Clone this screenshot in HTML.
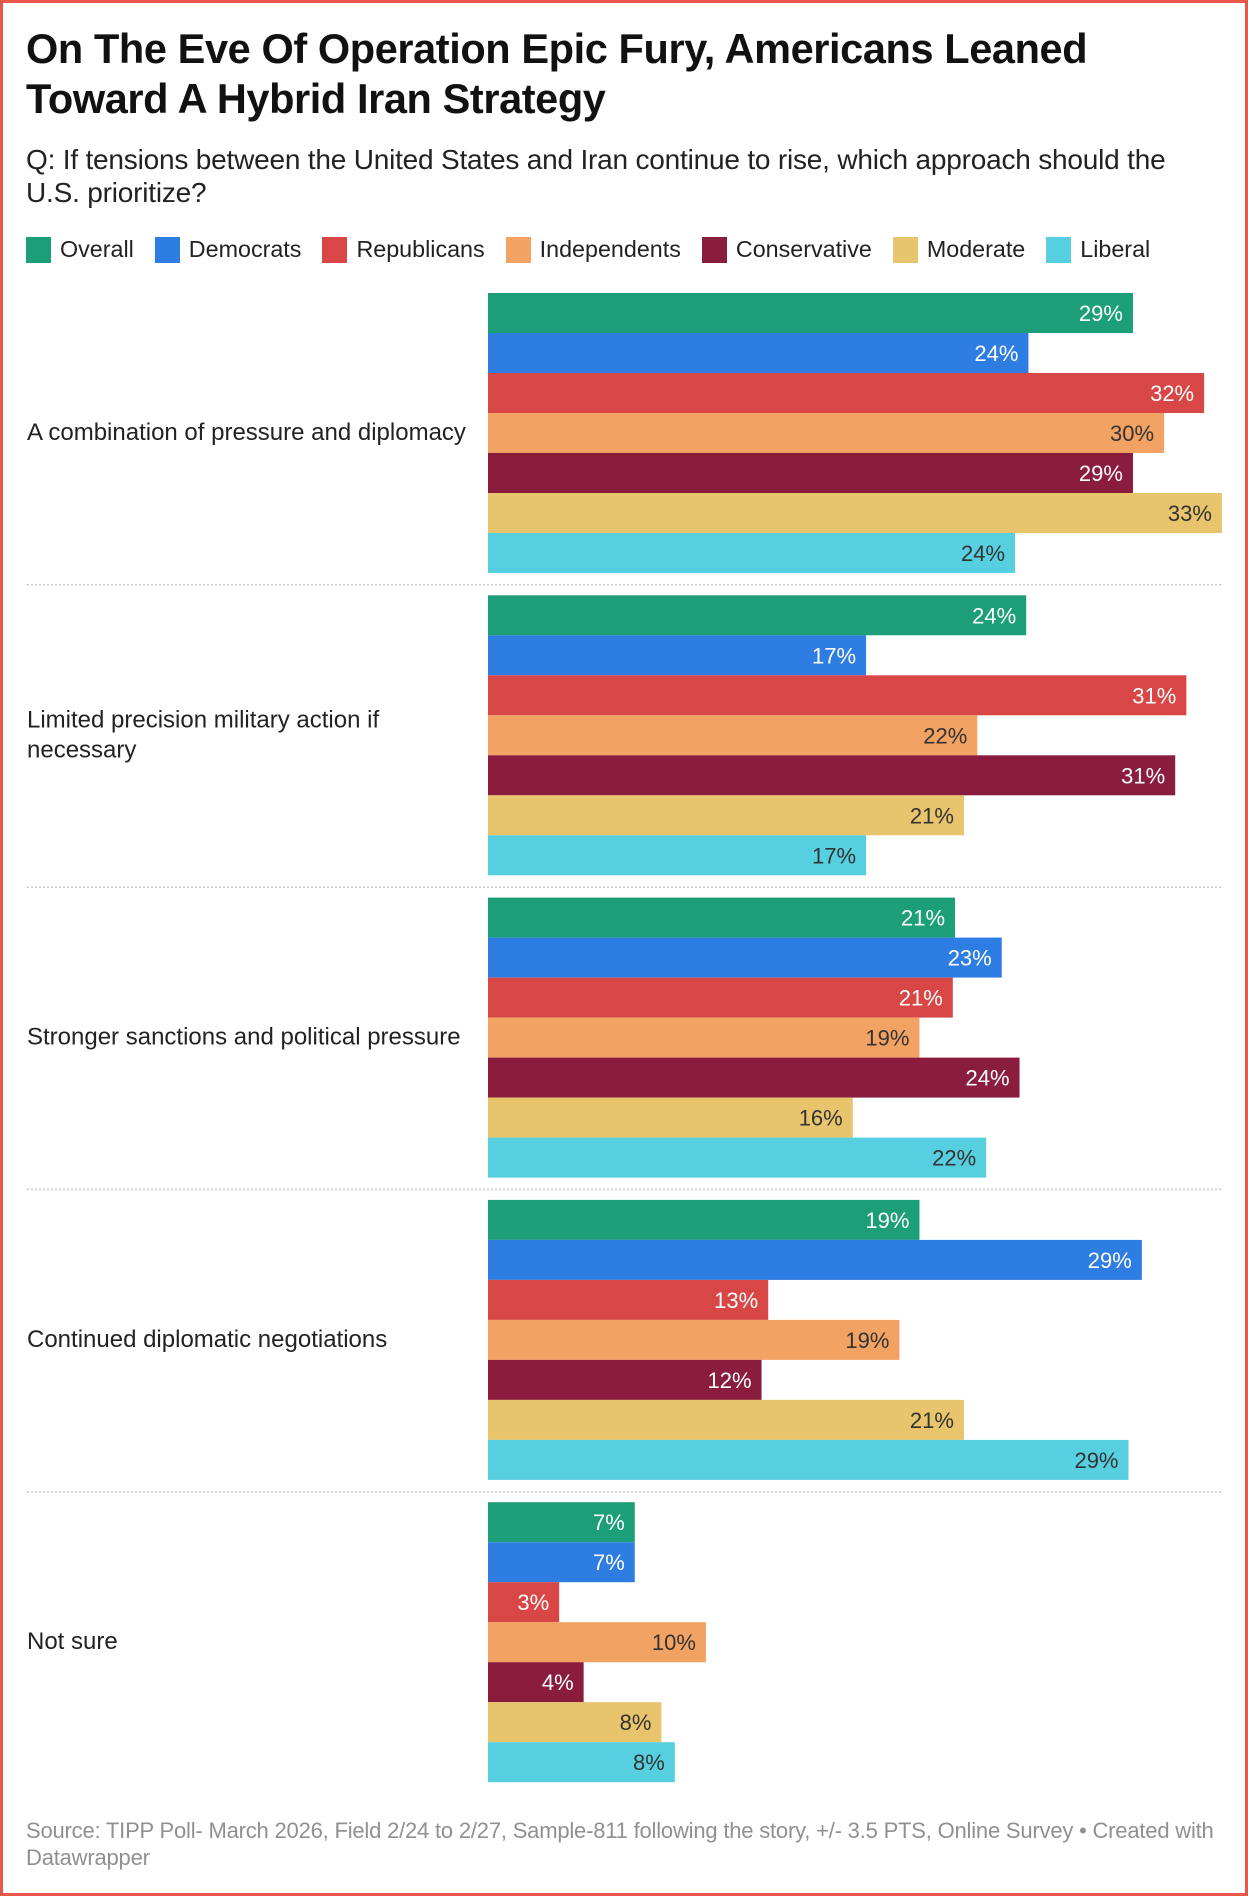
<!DOCTYPE html>
<html><head><meta charset="utf-8">
<style>
html,body{margin:0;padding:0;background:#fff;}
body{width:1248px;height:1896px;position:relative;overflow:hidden;font-family:"Liberation Sans",Arial,sans-serif;}
#frame{position:absolute;left:0;top:0;width:1242px;height:1890px;border:3px solid #e8574a;}
#title{position:absolute;left:26px;top:24px;font-size:41.5px;font-weight:bold;line-height:50px;color:#111;letter-spacing:-0.4px;}
#subtitle{position:absolute;left:26px;top:143px;font-size:28px;line-height:33px;color:#222;letter-spacing:-0.2px;}
#legend{position:absolute;left:26px;top:236px;font-size:23.3px;color:#222;display:flex;}
.lg{display:flex;align-items:center;margin-right:21px;}
.sw{width:25px;height:26px;margin-right:9px;}
#source{position:absolute;left:26px;top:1817px;font-size:22px;line-height:27px;color:#909090;width:1220px;letter-spacing:-0.2px;}
svg{position:absolute;left:0;top:0;}
</style></head>
<body>
<div id="frame"></div>
<div id="title">On The Eve Of Operation Epic Fury, Americans Leaned<br>Toward A Hybrid Iran Strategy</div>
<div id="subtitle">Q: If tensions between the United States and Iran continue to rise, which approach should the<br>U.S. prioritize?</div>
<div id="legend"></div>
<svg id="chart" width="1248" height="1896"></svg>
<div id="source">Source: TIPP Poll- March 2026, Field 2/24 to 2/27, Sample-811 following the story, +/- 3.5 PTS, Online Survey • Created with<br>Datawrapper</div>
<script>
const categories = ["A combination of pressure and diplomacy","Limited precision military action if|necessary","Stronger sanctions and political pressure","Continued diplomatic negotiations","Not sure"];
const seriesNames = ["Overall","Democrats","Republicans","Independents","Conservative","Moderate","Liberal"];
const overall = [29.0,24.2,21.0,19.4,6.6];
const democrats = [24.3,17.0,23.1,29.4,6.6];
const republicans = [32.2,31.4,20.9,12.6,3.2];
const independents = [30.4,22.0,19.4,18.5,9.8];
const conservative = [29.0,30.9,23.9,12.3,4.3];
const moderate = [33.0,21.4,16.4,21.4,7.8];
const liberal = [23.7,17.0,22.4,28.8,8.4];
const series = [overall,democrats,republicans,independents,conservative,moderate,liberal];
const colors = ["#1c9e78","#2e7de2","#d84745","#f2a262","#8a1c3d","#e8c46c","#56cfe0"];
const textColors = ["#fff","#fff","#fff","#333","#fff","#333","#333"];

const NS="http://www.w3.org/2000/svg";
const svg=document.getElementById('chart');
const x0=488, pxPer=22.24, groupTop=293, groupStep=302.3, barH=40;
const xScale=v=>v*pxPer;

const legend=document.getElementById('legend');
seriesNames.forEach((n,i)=>{
  const d=document.createElement('div');d.className='lg';
  
  
  d.innerHTML='<span class="sw" style="background:'+colors[i]+'"></span>'+n;
  legend.appendChild(d);
});

categories.forEach((c,g)=>{
  const top=groupTop+g*groupStep;
  if(g>0){
    const ln=document.createElementNS(NS,'line');
    ln.setAttribute('x1',27);ln.setAttribute('x2',1221);
    ln.setAttribute('y1',top-10.5);ln.setAttribute('y2',top-10.5);
    ln.setAttribute('stroke','#c8c8c8');ln.setAttribute('stroke-width','1.5');ln.setAttribute('stroke-dasharray','2,2');
    
    
    svg.appendChild(ln);
  }
  const lines=c.split('|');
  const cy=top+barH*3.5;
  const t=document.createElementNS(NS,'text');
  t.setAttribute('x',27);
  t.setAttribute('font-size','24');t.setAttribute('fill','#222');
  t.setAttribute('font-family','"Liberation Sans",Arial,sans-serif');
  
  
  lines.forEach((l,k)=>{
    const ts=document.createElementNS(NS,'tspan');
    ts.setAttribute('x',27);
    ts.setAttribute('y',cy+7+(k-(lines.length-1)/2)*30);
    ts.textContent=l;t.appendChild(ts);
  });
  svg.appendChild(t);
  series.forEach((s,i)=>{
    const v=s[g];const y=top+i*barH;
    const r=document.createElementNS(NS,'rect');
    r.setAttribute('x',x0);r.setAttribute('y',y);
    r.setAttribute('width',xScale(v));r.setAttribute('height',barH);
    r.setAttribute('fill',colors[i]);
    
    
    svg.appendChild(r);
    const lt=document.createElementNS(NS,'text');
    lt.setAttribute('x',x0+xScale(v)-10);lt.setAttribute('y',y+barH/2+8);
    lt.setAttribute('text-anchor','end');lt.setAttribute('font-size','22');
    lt.setAttribute('fill',textColors[i]);
    lt.setAttribute('font-family','"Liberation Sans",Arial,sans-serif');
    
    
    lt.textContent=Math.round(v)+'%';
    svg.appendChild(lt);
  });
});
</script>
</body></html>
